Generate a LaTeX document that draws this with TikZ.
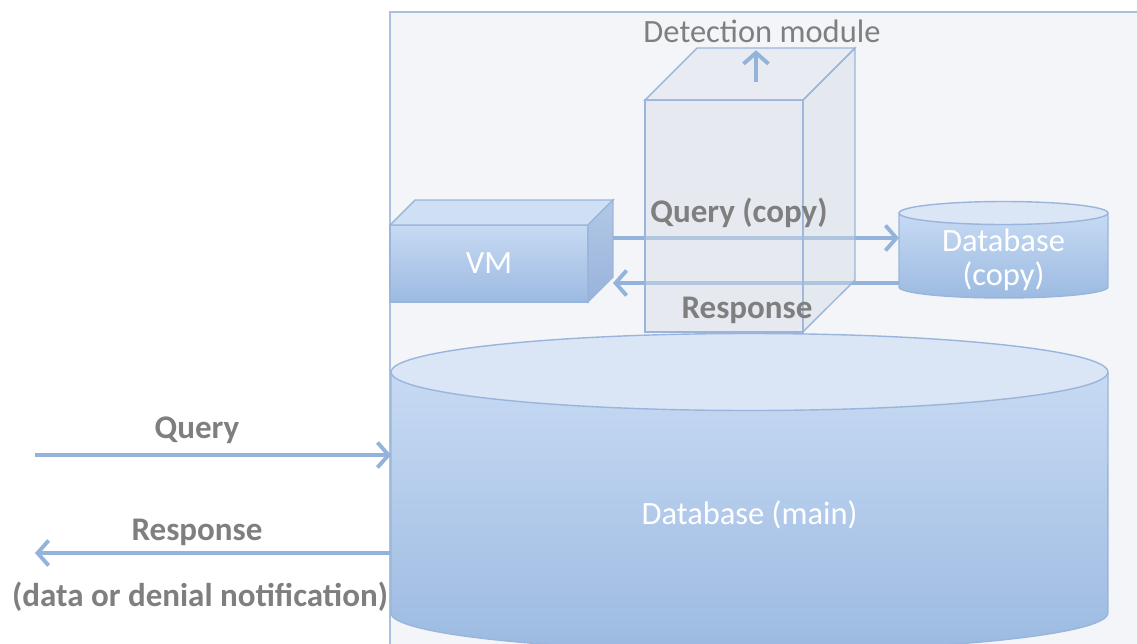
\documentclass[tikz,border=0pt]{standalone}
\usepackage{fontspec}
\setmainfont{Carlito}
\usepackage{tikz}
\usetikzlibrary{positioning,arrows.meta}
\definecolor{framefill}{HTML}{F3F5F9}
\definecolor{frameline}{HTML}{A9C1DF}
\definecolor{flowblue}{HTML}{93B3DB}
\definecolor{edgeblue}{HTML}{9AB5DB}
\definecolor{labelgray}{HTML}{7F7F7F}
\definecolor{dbtop}{HTML}{C7DAF3}
\definecolor{dbbottom}{HTML}{9CBAE1}
\definecolor{dbcap}{HTML}{DAE6F6}
\definecolor{vmcap}{HTML}{CFE0F5}
\definecolor{vmsidea}{HTML}{B3C8E6}
\definecolor{vmsideb}{HTML}{98B3DA}
\definecolor{cubefront}{HTML}{D8DEE7}
\definecolor{cubetop}{HTML}{DCE2EA}
\definecolor{cubeside}{HTML}{D2D9E3}

\begin{document}
\begin{tikzpicture}[
			x=0.02cm,y=-0.02cm,
			flow/.style={draw=flowblue,line width=2.2pt,-{Straight Barb[length=2.2mm,width=5mm]}},
			lbl/.style={font=\fontsize{18.8}{20}\selectfont\bfseries,text=labelgray,inner sep=0pt},
			dblbl/.style={font=\fontsize{18.5}{19.5}\selectfont,text=white,align=center,inner sep=0pt,outer sep=0pt},
			edge/.style={draw=edgeblue,line width=0.8pt}
			]
			
			\useasboundingbox (0,0) rectangle (1137,643);
			\clip (0,0) rectangle (1137,643);
			\fill[white] (0,0) rectangle (1137,643);
			\filldraw[fill=framefill,draw=frameline,line width=1pt] (390,12) rectangle (1180,700);
			
			\shade[top color=dbtop,bottom color=dbbottom] (391,372) -- (391,613)
			arc[start angle=180,end angle=360,x radius=7.17cm,y radius=0.76cm] -- (1108,372) -- cycle;
			\draw[edge] (391,372) -- (391,613)
			arc[start angle=180,end angle=360,x radius=7.17cm,y radius=0.76cm] -- (1108,372);
			\filldraw[fill=dbcap,edge] (749.5,372) ellipse[x radius=7.17cm,y radius=0.77cm];
			\node[dblbl,minimum width=14.34cm,minimum height=3.92cm] (dbmain) at (749.5,515) {Database (main)};
			
			\shade[top color=dbtop,bottom color=dbbottom] (899,213) -- (899,287)
			arc[start angle=180,end angle=360,x radius=2.09cm,y radius=0.22cm] -- (1108,213) -- cycle;
			\draw[edge] (899,213) -- (899,287)
			arc[start angle=180,end angle=360,x radius=2.09cm,y radius=0.22cm] -- (1108,213);
			\filldraw[fill=dbcap,edge] (1003.5,213) ellipse[x radius=2.09cm,y radius=0.23cm];
			\node[dblbl,minimum width=4.18cm] (dbcopy) at (1003.5,260) {Database\\(copy)};
			
			\node[edge,top color=dbtop,bottom color=dbbottom,minimum width=3.96cm,minimum height=1.54cm,
			inner sep=0pt,outer sep=0pt,font=\fontsize{18.5}{20}\selectfont,text=white] (vm) at (489,263.5) {VM};
			\filldraw[fill=vmcap,edge] (vm.north west) -- ++(25,-25) -- ++(198,0) -- (vm.north east) -- cycle;
			\shadedraw[top color=vmsidea,bottom color=vmsideb,edge] (vm.north east) -- ++(25,-25) -- ++(0,77) -- (vm.south east) -- cycle;
			
			\coordinate (cpyq) at (0,238);
			\coordinate (cpyr) at (0,283);
			\draw[flow] ([shift={(25,-25.5)}]vm.east) -- (dbcopy.west |- cpyq);
			\draw[flow] (dbcopy.west |- cpyr) -- ([shift={(25,19.5)}]vm.east);
			
			\node[edge,fill=cubefront,fill opacity=0.45,minimum width=3.16cm,minimum height=4.64cm,
			inner sep=0pt,outer sep=0pt] (cube) at (724,216) {};
			\filldraw[fill=cubetop,fill opacity=0.45,edge] (cube.north west) -- ++(52,-52) -- ++(158,0) -- (cube.north east) -- cycle;
			\filldraw[fill=cubeside,fill opacity=0.45,edge] (cube.north east) -- ++(52,-52) -- ++(0,232) -- (cube.south east) -- cycle;
			
			\node[lbl] (qclbl) at (739,213) {Query (copy)};
			\node[lbl] (rclbl) at (747,310) {Response};
			
			\node[font=\fontsize{18.5}{20}\selectfont,text=labelgray,inner xsep=0pt,inner ysep=0.15cm] (detlbl) at (762,31) {Detection module};
			\coordinate (detup) at (756,82);
			\draw[flow] (detup) -- (detup |- detlbl.south);
			
			\coordinate (qsrc) at (35,455);
			\coordinate (rdst) at (35,553);
			\draw[flow] (qsrc) -- (qsrc -| dbmain.west);
			\draw[flow] (rdst -| dbmain.west) -- (rdst);
			\node[lbl] (qlbl) at (197,430) {Query};
			\node[lbl] (rlbl) at (197,532) {Response};
			\node[lbl] (rnote) at (200,597) {(data or denial notification)};
			
		\end{tikzpicture}
\end{document}
